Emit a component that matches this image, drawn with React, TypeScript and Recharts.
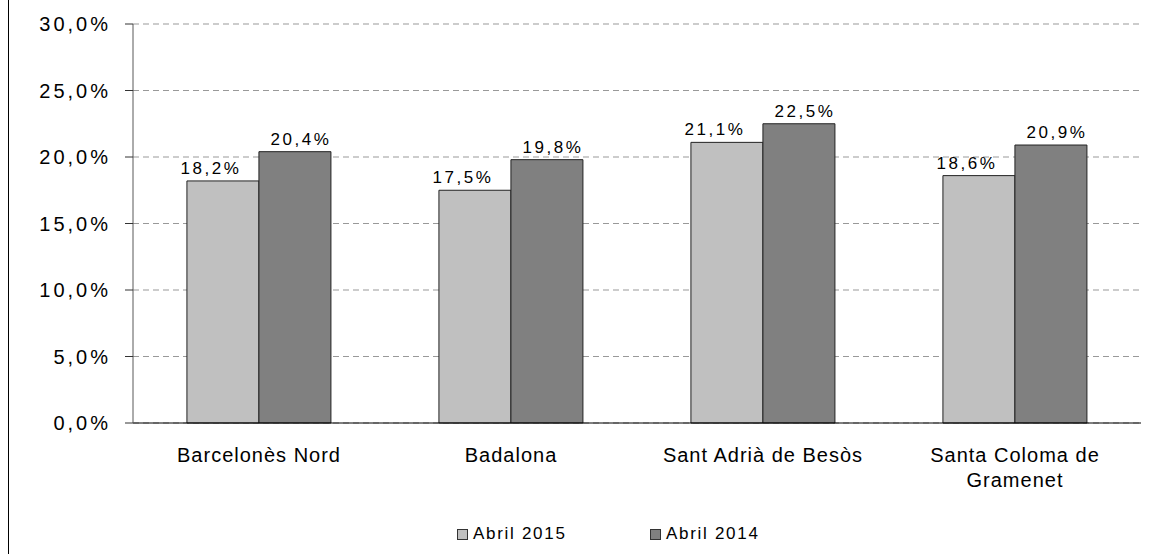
import React from 'react'
import { BarChart, Bar, XAxis, YAxis, CartesianGrid, Legend, LabelList } from 'recharts';

const categories = ['Barcelonès Nord', 'Badalona', 'Sant Adrià de Besòs', 'Santa Coloma de Gramenet'];
const abril2015 = [18.2, 17.5, 21.1, 18.6];
const abril2014 = [20.4, 19.8, 22.5, 20.9];
const yTicks = [0, 5, 10, 15, 20, 25, 30];
const edgeTicks = [0, 1, 2, 3, 4];

const series = [
    { key: 'a2015', name: 'Abril 2015', color: '#C0C0C0', dx: -12 },
    { key: 'a2014', name: 'Abril 2014', color: '#808080', dx: 6 },
];

const data = categories.map((name, i) => ({
    name,
    a2015: abril2015[i],
    a2014: abril2014[i],
}));

const pct = (v: number) => v.toFixed(1).replace('.', ',') + '%';

const font = '"Liberation Sans", Arial, sans-serif';

// simple word wrap, about 20 characters a line
const wrap = (s: string, max = 20) => {
    const lines: string[] = [];
    let cur = '';
    s.split(' ').forEach(w => {
        const next = cur ? cur + ' ' + w : w;
        if (next.length > max && cur) {
            lines.push(cur);
            cur = w;
        } else {
            cur = next;
        }
    });
    if (cur) lines.push(cur);
    return lines;
};

const CategoryTick = (props: any) => {
    const { x, y, payload } = props;
    const lines = wrap(String(payload.value));
    return (
        <text
            x={x}
            y={y + 39}
            textAnchor="middle"
            fill="#000"
            style={{ fontSize: 20, letterSpacing: 1, fontFamily: font }}
        >
            {lines.map((l, i) => (
                <tspan key={i} x={x} dy={i === 0 ? 0 : 25}>{l}</tspan>
            ))}
        </text>
    );
};

const ValueTick = (props: any) => {
    const { x, y, payload } = props;
    return (
        <text
            x={x}
            y={y + 7}
            textAnchor="end"
            fill="#000"
            style={{ fontSize: 20, letterSpacing: 3, fontFamily: font }}
        >
            {pct(payload.value)}
        </text>
    );
};

const LegendContent = () => (
    <div style={{
        display: 'flex',
        height: 40,
        alignItems: 'center',
        paddingLeft: 457,
        fontSize: 17,
        letterSpacing: 1.7,
        color: '#000',
        fontFamily: font,
    }}>
        {series.map(s => (
            <div key={s.key} style={{ width: 193, display: 'flex', alignItems: 'center' }}>
                <span style={{
                    width: 9,
                    height: 9,
                    border: '1px solid #333',
                    background: s.color,
                    marginRight: 5,
                    display: 'inline-block',
                }} />
                {s.name}
            </div>
        ))}
    </div>
);

const App = () => {
    return (
        <div style={{ position: 'absolute', left: 0, top: 0, width: 1157, height: 554, background: '#fff' }}>
            <div style={{ position: 'absolute', left: 8, top: 0, width: 1, height: 554, background: '#000' }} />
            <BarChart
                width={1157}
                height={554}
                data={data}
                margin={{ top: 24, right: 16, left: 0, bottom: 0 }}
                barCategoryGap="21.4%"
                barGap={0}
                style={{ fontFamily: font }}
            >
                <CartesianGrid vertical={false} stroke="#999" strokeDasharray="6 4" />
                <XAxis
                    xAxisId="edges"
                    type="number"
                    domain={[0, 4]}
                    ticks={edgeTicks}
                    interval={0}
                    height={0}
                    tick={false}
                    axisLine={false}
                    tickLine={{ stroke: '#333' }}
                    tickSize={6}
                />
                <XAxis
                    xAxisId="cat"
                    dataKey="name"
                    height={91}
                    interval={0}
                    tickLine={false}
                    tickSize={0}
                    tickMargin={0}
                    axisLine={{ stroke: '#000' }}
                    tick={<CategoryTick />}
                />
                <YAxis
                    width={133}
                    domain={[0, 30]}
                    ticks={yTicks}
                    interval={0}
                    tickSize={8}
                    tickMargin={14}
                    axisLine={{ stroke: '#595959' }}
                    tickLine={{ stroke: '#333' }}
                    tick={<ValueTick />}
                />
                <YAxis
                    yAxisId="right"
                    orientation="right"
                    width={0}
                    tick={false}
                    tickLine={false}
                    axisLine={{ stroke: '#999' }}
                />
                <Legend
                    verticalAlign="bottom"
                    content={<LegendContent />}
                    wrapperStyle={{ left: 0, bottom: 0, width: 1157, height: 40 }}
                />
                {series.map(s => (
                    <Bar
                        key={s.key}
                        xAxisId="cat"
                        dataKey={s.key}
                        name={s.name}
                        fill={s.color}
                        stroke="#222"
                        strokeWidth={1}
                        isAnimationActive={false}
                    >
                        <LabelList
                            dataKey={s.key}
                            position="top"
                            offset={7}
                            formatter={(v: any) => pct(Number(v))}
                            fontSize={17}
                            letterSpacing={2.5}
                            fill="#000"
                            dx={s.dx}
                        />
                    </Bar>
                ))}
            </BarChart>
        </div>
    )
}

export default App
